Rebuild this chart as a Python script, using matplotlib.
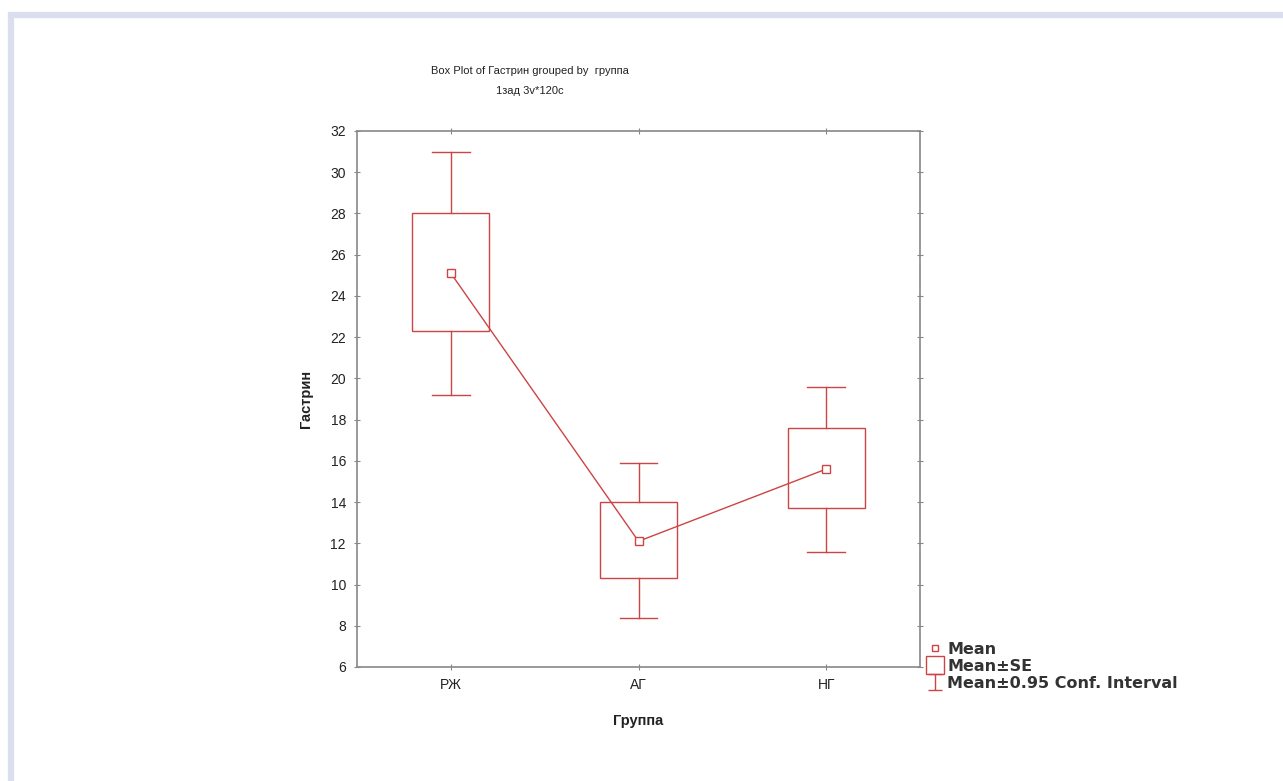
import numpy as np
import matplotlib
matplotlib.use("Agg")
import matplotlib.pyplot as plt
from matplotlib.lines import Line2D
from matplotlib.patches import Rectangle

plt.rcParams["font.family"] = ["Liberation Sans", "DejaVu Sans"]

# data
groups = ["РЖ", "АГ", "НГ"]
means = [25.1, 12.1, 15.6]
se_lo = [22.3, 10.3, 13.7]
se_hi = [28.0, 14.0, 17.6]
ci_lo = [19.2, 8.4, 11.6]
ci_hi = [31.0, 15.9, 19.6]
yticks = list(range(6, 33, 2))

red = "#cc4444"
txt = "#222222"

fig = plt.figure(figsize=(12.83, 7.81), dpi=100, facecolor="white")

# light frame strips (left and top only)
fig.add_artist(Line2D([10.5 / 1283, 10.5 / 1283], [0, 1 - 12 / 781],
                      transform=fig.transFigure, color="#dadeee", lw=4.5,
                      solid_capstyle="butt"))
fig.add_artist(Line2D([8 / 1283, 1], [1 - 14.5 / 781, 1 - 14.5 / 781],
                      transform=fig.transFigure, color="#dadeee", lw=4.5,
                      solid_capstyle="butt"))

ax = fig.add_axes([357 / 1283, 1 - 667 / 781, 563 / 1283, 536 / 781])
x = np.arange(len(groups))

# whiskers (0.95 conf. interval) and mean±SE boxes
for xi, lo, hi, blo, bhi in zip(x, ci_lo, ci_hi, se_lo, se_hi):
    ax.plot([xi, xi], [bhi, hi], color=red, lw=1)
    ax.plot([xi, xi], [lo, blo], color=red, lw=1)
    ax.plot([xi - 0.1, xi + 0.1], [hi, hi], color=red, lw=1)
    ax.plot([xi - 0.1, xi + 0.1], [lo, lo], color=red, lw=1)
    ax.add_patch(Rectangle((xi - 0.205, blo), 0.41, bhi - blo, fill=False,
                           edgecolor=red, lw=1))

ax.plot(x, means, color=red, lw=1, marker="s", ms=6, mfc="white", mec=red, mew=1)

ax.set_xlim(-0.5, 2.5)
ax.set_ylim(6, 32)
ax.set_yticks(yticks)
ax.set_xticks(x)
ax.set_xticklabels(groups)
ax.tick_params(direction="inout", length=4, width=0.8, colors="#888888",
               labelcolor=txt, labelsize=10, pad=6, top=True, right=True)
for s in ax.spines.values():
    s.set_color("#888888")
    s.set_linewidth(1.2)

ax.set_ylabel("Гастрин", fontsize=10.5, fontweight="bold", labelpad=12, color=txt)
ax.set_xlabel("Группа", fontsize=10.5, fontweight="bold", labelpad=16, color=txt)

fig.text(530 / 1283, 1 - 71 / 781, "Box Plot of Гастрин grouped by  группа",
         ha="center", va="center", fontsize=8, color=txt)
fig.text(530 / 1283, 1 - 91 / 781, "1зад 3v*120c",
         ha="center", va="center", fontsize=8, color=txt)

# legend
h_mean = Line2D([], [], ls="none", marker="s", ms=5, mfc="white", mec=red, mew=1)
h_se = Line2D([], [], ls="none", marker="s", ms=13, mfc="white", mec=red, mew=1)
h_ci = ax.errorbar([np.nan], [np.nan], yerr=[1], fmt="none", ecolor=red,
                   elinewidth=1, capsize=5)
leg = ax.legend([h_mean, h_se, h_ci], ["Mean", "Mean±SE", "Mean±0.95 Conf. Interval"],
                loc="upper left", bbox_to_anchor=(928 / 1283, 1 - 642 / 781),
                bbox_transform=fig.transFigure, frameon=False,
                prop={"family": "DejaVu Sans", "weight": "bold", "size": 11.5},
                handlelength=0.9, handletextpad=0.3, labelspacing=0.12,
                borderaxespad=0, borderpad=0)
for t in leg.get_texts():
    t.set_color("#333333")

fig.savefig("out.png", dpi=100, facecolor="white")
